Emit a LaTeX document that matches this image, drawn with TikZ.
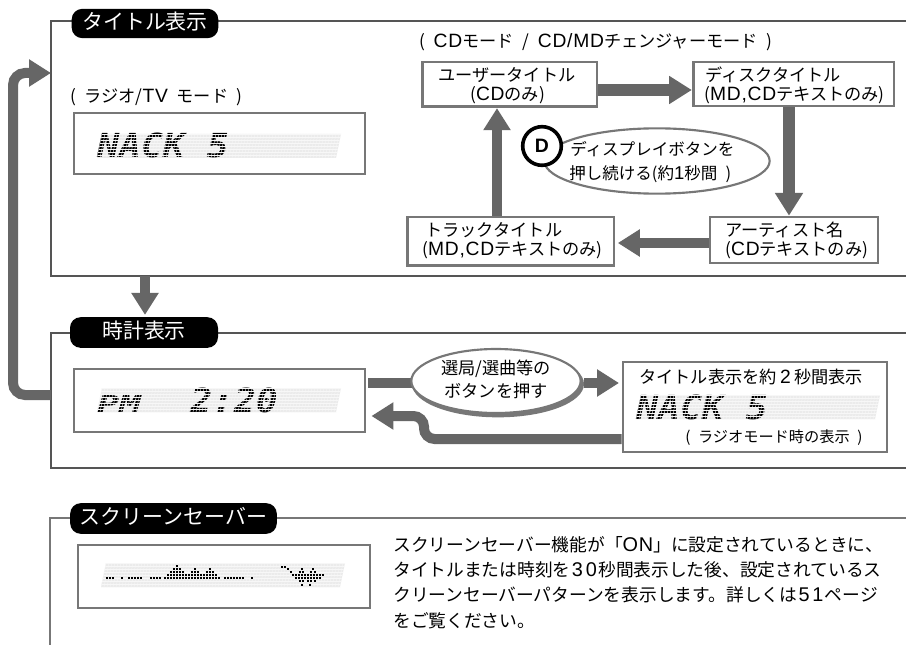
\documentclass[tikz,border=0pt]{standalone}
\usepackage{fontspec}
\usetikzlibrary{arrows.meta,shapes.geometric}
\setmainfont{Noto Sans CJK JP}
\newfontfamily\la[Scale=1.12,LetterSpace=4]{Liberation Sans}
\newfontfamily\lcdf[FakeStretch=1.1]{DejaVu Sans Mono}
\newfontfamily\lcdw[FakeStretch=1.55]{DejaVu Sans Mono}
\definecolor{framec}{HTML}{555555}
\definecolor{framed}{HTML}{777777}
\definecolor{arrowc}{HTML}{666666}
\definecolor{bandc}{HTML}{EBEBEB}
\definecolor{gridc}{HTML}{F7F7F7}
\newcommand\dg[1]{\makebox[.78em][c]{\la #1}}
\newcommand\dgw[1]{\makebox[1em][c]{\la #1}}
\newcommand\fs[1]{\fontsize{#1pt}{15pt}\selectfont\spaceskip=.5em\relax}
\newcommand\lcdbase[2]{\fill[bandc,shift={(#1,#2)}] (5,0) -- (244,0) -- (239,24) -- (0,24) -- cycle;}
\newcommand\lcdgrid[2]{\begin{scope}[shift={(#1,#2)}]
 \clip (5,0) -- (244,0) -- (239,24) -- (0,24) -- cycle;
 \foreach \r in {0,3,...,24} {\draw[gridc,line width=.28pt] (0,\r) -- (244,\r);}
 \foreach \c in {0,3,...,246} {\draw[gridc,line width=.28pt] (\c+5,0) -- (\c,24);}
\end{scope}}
\tikzset{
 x=.75pt,y=-.75pt,
 framel/.style={draw=framec,line width=1.6pt},
 framem/.style={draw=framed,line width=2pt},
 pill/.style={fill=black,text=white,rounded corners=8pt,inner sep=0pt,
   font=\fontsize{15.7pt}{18pt}\selectfont,text height=12pt,text depth=3pt},
 lcdbox/.style={draw=framed,line width=1.9pt,fill=white,inner sep=0pt,minimum width=218pt,minimum height=46pt},
 mbox/.style={draw=framed,line width=2pt,fill=white,inner sep=0pt},
 lbl/.style={inner sep=0pt,anchor=west,font=\fs{12.9},text height=10pt,text depth=3pt},
 lcdt/.style={inner sep=0pt,anchor=base west,font=\fontsize{24.8pt}{26pt}\lcdf\bfseries\itshape\selectfont},
 fat/.style={draw=arrowc,line width=7.5pt,-{Triangle[length=16.5pt,width=19.5pt]}},
 fatw/.style={draw=arrowc,line width=9pt,-{Triangle[length=16.5pt,width=20pt]}},
 bar/.style={draw=arrowc,line width=7.5pt},
 pix/.style={fill=black,inner sep=0pt,minimum size=1.8pt},
}
\begin{document}
\begin{tikzpicture}
\useasboundingbox (0,0) rectangle (906,645);
\fill[white] (0,0) rectangle (906,645);

% frames
\coordinate (f1tr) at (906,21);
\coordinate (f1tl) at (51,21);
\coordinate (f1bl) at (51,276);
\coordinate (f1br) at (906,276);
\coordinate (f2tr) at (906,333);
\coordinate (f2tl) at (51,333);
\coordinate (f2bl) at (51,468);
\coordinate (f2br) at (906,468);
\coordinate (f3tr) at (906,518);
\coordinate (f3tl) at (50,518);
\coordinate (f3bl) at (50,645);
\draw[framel] (f1tr) -- (f1tl) -- (f1bl) -- (f1br);
\draw[framel] (f2tr) -- (f2tl) -- (f2bl) -- (f2br);
\draw[framem] (f3tr) -- (f3tl) -- (f3bl);

% title pills
\node[pill,minimum width=110pt,minimum height=22pt] (p1) at (145,23.5) {タイトル表示};
\node[pill,minimum width=111pt,minimum height=23pt] (p2) at (144,332.5) {時計表示};
\node[pill,minimum width=155pt,minimum height=23pt] (p3) at (173.5,518.5) {スクリーンセーバー};

% outer arrows
\coordinate (f1w) at (51,73);
\coordinate (f2w) at (51,395);
\coordinate (lb) at (13,395);
\coordinate (lt) at (13,73);
\draw[fat,rounded corners=9pt] (f2w) -- (lb) -- (lt) -- (f1w);
\coordinate (f1d) at (145,276);
\draw[fat,shorten >=1.5pt] (f1d) -- (f1d |- p2.north);

% radio section
\node[lbl] (radio) at (70,98) {( ラジオ/{\la TV} モード )};
\node[lcdbox] (lcd1) at (219.5,143.5) {};
\lcdbase{97}{134}
\node[lcdt] (nack1) at (97,158) {NACK 5};
\lcdgrid{97}{134}

% CD section
\node[lbl] (cdlabel) at (419,43) {( {\la CD}モード / {\la CD/MD}チェンジャーモード )};
\node[mbox,minimum width=131pt,minimum height=33.5pt] (user) at (509.5,84.5) {};
\node[mbox,minimum width=150.5pt,minimum height=33pt] (disc) at (793.5,84) {};
\node[mbox,minimum width=126pt,minimum height=34.5pt] (artist) at (794,240) {};
\node[mbox,minimum width=155pt,minimum height=36.5pt] (track) at (510.5,241.5) {};
\node[lbl] (u1) at (438,77) {ユーザータイトル};
\node[lbl] (u2) at (470,96) {({\la CD}のみ)};
\node[lbl] (d1) at (705,77) {ディスクタイトル};
\node[lbl] (d2) at (704,96) {({\la MD,CD}テキストのみ)};
\node[lbl] (a1) at (725,232) {アーティスト名};
\node[lbl] (a2) at (725,251) {({\la CD}テキストのみ)};
\node[lbl] (t1) at (425,232) {トラックタイトル};
\node[lbl] (t2) at (422,251) {({\la MD,CD}テキストのみ)};

\coordinate (y90) at (0,90);
\coordinate (x789) at (789,0);
\coordinate (y243) at (0,243);
\coordinate (x497) at (497,0);
\draw[fatw,-{Triangle[length=17pt,width=20pt]}] (user.east |- y90) -- (disc.west |- y90);
\draw[fatw,-{Triangle[length=17pt,width=20pt]}] (disc.south -| x789) -- (artist.north -| x789);
\draw[fat,shorten >=2pt] (artist.west |- y243) -- (track.east |- y243);
\draw[fat] (track.north -| x497) -- (user.south -| x497);

\node[ellipse,draw=framed,line width=1.6pt,fill=white,minimum width=169pt,minimum height=49pt,inner sep=0pt] (ell1) at (657,161) {};
\node[circle,draw=black,line width=2.7pt,fill=white,minimum size=29pt,inner sep=0pt,font=\la\bfseries\fontsize{13pt}{13pt}\selectfont] (dbtn) at (542,146) {D};
\node[lbl,font=\fs{12.4}] (e1) at (570,151) {ディスプレイボタンを};
\node[lbl,font=\fs{12.4}] (e2) at (569,175) {押し続ける(約{\la 1}秒間 )};

% clock section
\node[lcdbox,minimum height=47pt] (lcd2) at (219.5,400.5) {};
\lcdbase{97}{388}
\node[lcdt,font=\fontsize{17.5pt}{20pt}\lcdw\bfseries\itshape\selectfont] (pm) at (97,412.5) {PM};
\node[lcdt] (clock) at (190,412.5) {2:20};
\lcdgrid{97}{388}

\node[mbox,minimum width=198pt,minimum height=67.5pt] (tb) at (755,407) {};
\coordinate (y383) at (0,383);
\coordinate (r1) at (424,439);
\coordinate (r2) at (424,416);
\draw[fat,rounded corners=8pt,shorten >=4pt] (tb.west |- r1) -- (r1) -- (r2) -- (lcd2.east |- r2);
\node[ellipse,fill=framed,minimum width=129pt,minimum height=50pt,inner sep=0pt] (ell2s) at (498,384) {};
\draw[bar] (lcd2.east |- y383) ++(2,0) -- (ell2s.west |- y383);
\draw[fat,shorten >=2pt] (ell2s.east |- y383) -- (tb.west |- y383);
\node[ellipse,draw=framed,line width=1.6pt,fill=white,minimum width=127pt,minimum height=48pt,inner sep=0pt] (ell2) at (496,381) {};
\node[lbl,anchor=center] (s1) at (496,370) {選局/選曲等の};
\node[lbl,anchor=center] (s2) at (496,393) {ボタンを押す};

\node[lbl] (tb1) at (639,379) {タイトル表示を約\dgw{2}秒間表示};
\lcdbase{636}{395}
\node[lcdt] (nack2) at (636,419) {NACK 5};
\lcdgrid{636}{395}
\node[lbl,font=\fs{11.4}] (tb2) at (685,438) {( ラジオモード時の表示 )};

% screen saver section
\node[lcdbox,minimum width=219pt,minimum height=47pt] (lcd3) at (224,576.5) {};
\lcdbase{101}{563}
\lcdgrid{101}{563}
\foreach \x in {107,110,113,122,129,132,135,138,141,151,154,157,160,225,228,231,234,237,240,243,252}
  {\node[pix] at (\x,578) {};}
\foreach \x/\h in {165/1,168/2,171/3,174/4,177/5,180/4,183/3,186/2,189/2,192/3,195/4,198/3,201/2,204/2,207/3,210/4,213/3,216/2,219/1}
  {\foreach \k in {1,...,\h} {\node[pix] at (\x,581-3*\k) {};}}
\foreach \x/\y in {282/567,285/567,288/569,291/572,293/575,296/575,299/575,302/575,305/575,308/575,311/575,314/575,317/575,320/575,323/575,
  302/569,300/572,303/572,313/569,311/572,315/572,296/578,299/578,302/578,305/578,308/578,311/578,314/578,317/578,320/578,
  300/581,303/581,308/581,311/581,315/581,302/585,310/585}
  {\node[pix] at (\x,\y) {};}

\node[lbl,font=\fs{13.3}] (para1) at (393,547) {スクリーンセーバー機能が「{\la ON}」に設定されているときに、};
\node[lbl,font=\fs{13.3}] (para2) at (393,572) {タイトルまたは時刻を\dg{3}\dg{0}秒間表示した後、設定されているス};
\node[lbl,font=\fs{13.3}] (para3) at (393,597) {クリーンセーバーパターンを表示します。詳しくは\dg{5}\dg{1}ページ};
\node[lbl,font=\fs{13.3}] (para4) at (393,623) {をご覧ください。};
\end{tikzpicture}
\end{document}
